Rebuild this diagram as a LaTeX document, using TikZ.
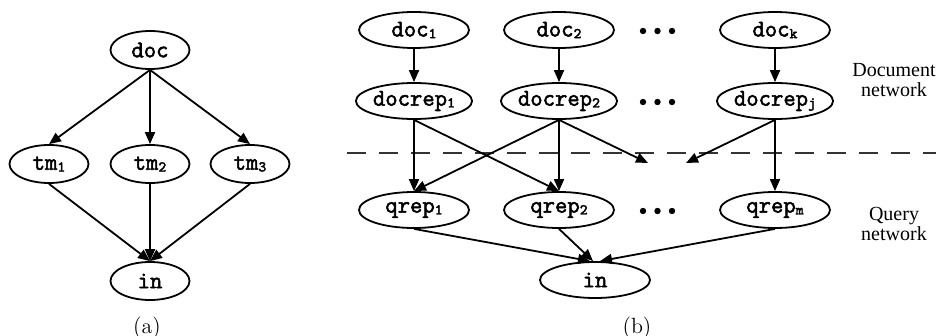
\documentclass[tikz,border=0pt]{standalone}
\usepackage{fontspec}
\newfontfamily\serifnote{Liberation Serif}
\newfontfamily\monobold{Latin Modern Mono}[FakeBold=2.2]
\usetikzlibrary{arrows.meta,shapes.geometric}

% small index written after a node name
\newcommand\ix[1]{\raisebox{-0.9pt}{\fontsize{7.5}{7.5}\selectfont #1}}

\tikzset{
  netnode/.style={ellipse, draw, line width=0.9pt, inner sep=0pt,
    minimum width=55pt, minimum height=18pt,
    font=\monobold\fontsize{12}{12}\selectfont},
  smallnode/.style={netnode, minimum width=39.5pt, minimum height=19pt},
  link/.style={-{Triangle[length=6pt,width=5pt]}, line width=0.9pt},
  netlabel/.style={align=center, font=\serifnote\fontsize{10}{9.8}\selectfont},
  caption/.style={anchor=base, font=\fontsize{11}{12}\selectfont},
  threedots/.pic={\foreach \dx in {-14.5,0,14.5} \fill (\dx,0) circle[radius=1.6pt];},
}

\begin{document}
\begin{tikzpicture}[x=0.5pt,y=-0.5pt]
\useasboundingbox (0,0) rectangle (936,336);

% ---------- (a) ----------
\node[smallnode] (doc) at (150,50) {doc};
\node[smallnode] (tm1) at (49,164) {tm\ix{1}};
\node[smallnode] (tm2) at (150,164) {tm\ix{2}};
\node[smallnode] (tm3) at (250,164) {tm\ix{3}};
\node[smallnode] (ina) at (150,281) {in};
\foreach \t in {tm1,tm2,tm3} {
  \draw[link] (doc.south) -- (\t.north);
  \draw[link] (\t.south) -- (ina.north);
}
\node[caption] (capa) at (147,333) {(a)};

% ---------- (b) ----------
\node[netnode] (d1) at (414,30) {doc\ix{1}};
\node[netnode] (d2) at (559,30) {doc\ix{2}};
\node[netnode] (dk) at (775,30) {doc\ix{k}};
\pic at (657.5,31) {threedots};

\node[netnode] (r1) at (414,101) {docrep\ix{1}};
\node[netnode] (r2) at (559,101) {docrep\ix{2}};
\node[netnode] (rj) at (775,101) {docrep\ix{j}};
\pic at (657.5,102) {threedots};

\node[netnode] (q1) at (414,210) {qrep\ix{1}};
\node[netnode] (q2) at (559,210) {qrep\ix{2}};
\node[netnode] (qm) at (775,210) {qrep\ix{m}};
\pic at (657.5,211) {threedots};

\node[netnode] (inb) at (595,280) {in};

% boundary between the two networks
\coordinate (dl) at (347,153);
\coordinate (dr) at (936,153);
\draw[dashed, dash pattern=on 9.3 off 6.7, line width=0.9pt, black!80] (dl) -- (dr);

% loose ends of the document network
\coordinate (e1) at (648,163);
\coordinate (e2) at (686,163);

\draw[link] (d1.south) -- (r1.north);
\draw[link] (d2.south) -- (r2.north);
\draw[link] (dk.south) -- (rj.north);

\draw[link] (r1.south) -- (q1.north);
\draw[link] (r1.south) -- (q2.north);
\draw[link] (r2.south) -- (q1.north);
\draw[link] (r2.south) -- (q2.north);
\draw[link] (r2.south) -- (e1);
\draw[link] (rj.south) -- (e2);
\draw[link] (rj.south) -- (qm.north);

\draw[link] (q1.south) -- ([xshift=-2.5pt]inb.north);
\draw[link] (q2.south) -- ([xshift=-1pt]inb.north);
\draw[link] (qm.south) -- ([xshift=2.5pt]inb.north);

\node[netlabel] (docnet) at (894,80) {Document\\network};
\node[netlabel] (qnet) at (894,224) {Query\\network};
\node[caption] (capb) at (637,333) {(b)};
\end{tikzpicture}
\end{document}
